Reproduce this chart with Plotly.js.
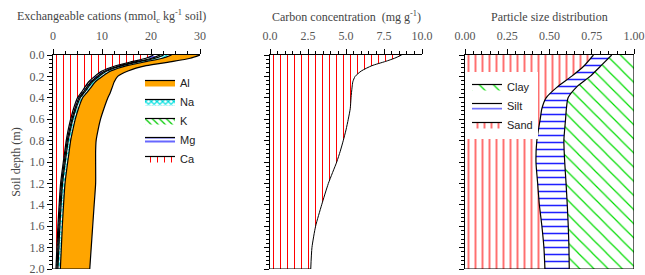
<!DOCTYPE html>
<html>
<head>
<meta charset="utf-8">
<script src="https://cdn.plot.ly/plotly-3.0.1.min.js"></script>
<style>html,body{margin:0;padding:0;background:#fff;}#chart{width:645px;height:275px;}</style>
</head>
<body>
<div id="chart"></div>
<script>
// ---- Panel 1: exchangeable cations (stacked widths, mmolc/kg) ----
const depthCat = [0, 0.03, 0.06, 0.1, 0.15, 0.2, 0.25, 0.3, 0.35, 0.4, 0.5, 0.6, 0.7, 0.8, 0.9, 1.0, 1.2, 1.4, 1.6, 1.8, 2.0];
const caVals = [20.5, 19.0, 16.3, 12.8, 10.0, 8.5, 7.3, 6.5, 5.8, 5.0, 4.2, 3.6, 3.1, 2.7, 2.4, 2.1, 1.55, 1.25, 1.0, 0.8, 0.6];
const mgVals = [1.3, 1.2, 1.0, 0.8, 0.6, 0.5, 0.45, 0.4, 0.35, 0.3, 0.3, 0.25, 0.25, 0.2, 0.2, 0.2, 0.2, 0.2, 0.2, 0.2, 0.2];
const kVals  = [0.8, 0.7, 0.6, 0.5, 0.4, 0.35, 0.3, 0.3, 0.25, 0.25, 0.2, 0.2, 0.2, 0.2, 0.2, 0.2, 0.2, 0.2, 0.2, 0.2, 0.2];
const naVals = [1.6, 1.5, 1.3, 1.0, 0.8, 0.7, 0.6, 0.6, 0.55, 0.5, 0.5, 0.5, 0.5, 0.5, 0.5, 0.5, 0.5, 0.5, 0.5, 0.5, 0.5];
const alVals = [5.8, 5.6, 5.3, 3.9, 3.5, 3.15, 3.85, 4.3, 4.75, 5.15, 5.2, 5.15, 5.15, 5.2, 5.4, 5.7, 6.25, 6.25, 6.2, 6.1, 6.0];

// ---- Panel 2: carbon concentration (mg/g) ----
const depthC = [0, 0.03, 0.06, 0.1, 0.15, 0.2, 0.25, 0.3, 0.4, 0.5, 0.6, 0.7, 0.8, 0.9, 1.0, 1.2, 1.4, 1.6, 1.8, 2.0];
const carbonVals = [8.66, 8.2, 7.6, 6.7, 6.0, 5.6, 5.45, 5.4, 5.33, 5.28, 5.15, 5.0, 4.82, 4.62, 4.39, 3.84, 3.4, 3.0, 2.76, 2.68];

// ---- Panel 3: particle size fractions ----
const depthP = [0, 0.1, 0.2, 0.3, 0.4, 0.5, 0.6, 0.8, 1.0, 1.2, 1.4, 1.6, 1.8, 2.0];
const sandVals = [0.76, 0.705, 0.63, 0.545, 0.48, 0.455, 0.445, 0.425, 0.42, 0.43, 0.44, 0.455, 0.467, 0.473];
const siltVals = [0.108, 0.10, 0.11, 0.115, 0.13, 0.145, 0.15, 0.16, 0.17, 0.168, 0.165, 0.156, 0.148, 0.144];
const clayVals = sandVals.map((s, i) => +(1 - s - siltVals[i]).toFixed(3));

// ---- labels / ticks ----
const catNames = ['Ca', 'Mg', 'K', 'Na', 'Al'];
const psNames = ['Sand', 'Silt', 'Clay'];
const depthTicks = [0, 0.2, 0.4, 0.6, 0.8, 1.0, 1.2, 1.4, 1.6, 1.8, 2.0];
const catTicks = [0, 10, 20, 30];
const carbonTicks = [0, 2.5, 5, 7.5, 10];
const psTicks = [0, 0.25, 0.5, 0.75, 1];
const titles = ['Exchangeable cations (mmol<sub>c</sub> kg<sup>-1</sup> soil)', 'Carbon concentration  (mg g<sup>-1</sup>)', 'Particle size distribution'];
const yTitle = 'Soil depth (m)';

const serif = 'Liberation Serif, Times New Roman, serif';
const sans = 'Liberation Sans, Arial, sans-serif';
const lineStyle = {color: 'black', width: 1.2, shape: 'spline', smoothing: 0.6};

const catStyles = {
  Ca: {shape: '|', fgcolor: '#ff0000', bgcolor: 'white', size: 7, solidity: 0.15},
  Mg: {shape: '-', fgcolor: '#0000ff', bgcolor: 'white', size: 4, solidity: 0.3},
  K:  {shape: '\\', fgcolor: '#00cc00', bgcolor: 'white', size: 5, solidity: 0.25},
  Na: {shape: 'x', fgcolor: '#00e0e0', bgcolor: 'white', size: 4, solidity: 0.5},
  Al: null
};
const catData = {Ca: caVals, Mg: mgVals, K: kVals, Na: naVals, Al: alVals};

const traces = [];
catNames.forEach(n => {
  const t = {
    type: 'scatter', mode: 'lines', name: n,
    x: catData[n], y: depthCat, xaxis: 'x', yaxis: 'y',
    stackgroup: 'cat', orientation: 'h',
    line: lineStyle, legend: 'legend'
  };
  if (catStyles[n]) { t.fillpattern = catStyles[n]; t.fillcolor = 'white'; }
  else { t.fillcolor = '#ffa500'; }
  traces.push(t);
});
const nC = depthCat.length - 1;
const totalBottom = caVals[nC] + mgVals[nC] + kVals[nC] + naVals[nC] + alVals[nC];
traces.push({type: 'scatter', mode: 'lines', x: [0, totalBottom], y: [depthCat[nC], depthCat[nC]],
  xaxis: 'x', yaxis: 'y', line: {color: 'black', width: 1.2}, showlegend: false, hoverinfo: 'skip'});

// carbon
traces.push({type: 'scatter', mode: 'lines', x: carbonVals, y: depthC, xaxis: 'x2', yaxis: 'y2',
  fill: 'tozerox', fillcolor: 'white',
  fillpattern: {shape: '|', fgcolor: '#ff0000', bgcolor: 'white', size: 7, solidity: 0.15},
  line: {color: 'black', width: 1, shape: 'spline', smoothing: 0.6}, showlegend: false});
const nCa = depthC.length - 1;
traces.push({type: 'scatter', mode: 'lines', x: [0, carbonVals[nCa]], y: [depthC[nCa], depthC[nCa]],
  xaxis: 'x2', yaxis: 'y2', line: {color: 'black', width: 1.2}, showlegend: false, hoverinfo: 'skip'});

// particle size
const psStyles = {
  Sand: {shape: '|', fgcolor: '#ff7070', bgcolor: 'white', size: 7, solidity: 0.28},
  Silt: {shape: '-', fgcolor: '#2020ff', bgcolor: 'white', size: 7, solidity: 0.22},
  Clay: {shape: '\\', fgcolor: '#00dd00', bgcolor: 'white', size: 10, solidity: 0.12}
};
const psData = {Sand: sandVals, Silt: siltVals, Clay: clayVals};
psNames.forEach(n => {
  traces.push({type: 'scatter', mode: 'lines', name: n, x: psData[n], y: depthP,
    xaxis: 'x3', yaxis: 'y3', stackgroup: 'ps', orientation: 'h',
    fillcolor: 'white', fillpattern: psStyles[n], line: lineStyle, legend: 'legend2'});
});
const nP = depthP.length - 1;
traces.push({type: 'scatter', mode: 'lines', x: [0, sandVals[nP] + siltVals[nP] + clayVals[nP]],
  y: [depthP[nP], depthP[nP]], xaxis: 'x3', yaxis: 'y3',
  line: {color: 'black', width: 1.2}, showlegend: false, hoverinfo: 'skip'});

const tickFont = {family: serif, size: 12, color: '#555'};
function xAx(dom, range, tv, minor, fmt, anchor) {
  return {domain: dom, range: range, side: 'top', anchor: anchor, showline: true, linecolor: 'black',
    linewidth: 1, ticks: 'outside', ticklen: 5, tickcolor: 'black', tickwidth: 1,
    tickmode: 'array', tickvals: tv, tickformat: fmt, ticklabelstandoff: 4, ticklabeloverflow: 'allow',
    showgrid: false, zeroline: false, tickfont: tickFont, automargin: false,
    minor: {tickmode: 'linear', ticks: 'outside', ticklen: 3, dtick: minor, tick0: 0, tickcolor: 'black', showgrid: false}};
}
function yAx(anchor, labels) {
  return {domain: [6/275, 220/275], range: [2, 0], anchor: anchor, showline: true, linecolor: 'black',
    linewidth: 1, ticks: 'outside', ticklen: 5, tickcolor: 'black',
    tickmode: 'array', tickvals: depthTicks, tickformat: '.1f', ticklabeloverflow: 'allow',
    showticklabels: labels, showgrid: false, zeroline: false, tickfont: tickFont, automargin: false,
    minor: {tickmode: 'linear', ticks: 'outside', ticklen: 3, dtick: 0.04, tick0: 0, tickcolor: 'black', showgrid: false}};
}

const titleY = (275 - 17) / 275;
const layout = {
  width: 645, height: 275, margin: {l: 0, r: 0, t: 0, b: 0},
  paper_bgcolor: 'white', plot_bgcolor: 'rgba(0,0,0,0)',
  font: {family: serif, size: 12, color: '#444'},
  xaxis: xAx([53/645, 200/645], [0, 30], catTicks, 2.5, 'd', 'y'),
  xaxis2: xAx([270/645, 422/645], [0, 10], carbonTicks, 0.5, '.1f', 'y2'),
  xaxis3: xAx([465/645, 634/645], [0, 1], psTicks, 0.05, '.2f', 'y3'),
  yaxis: Object.assign(yAx('x', true), {title: {text: yTitle, font: {family: serif, size: 12, color: '#444'}, standoff: 6}}),
  yaxis2: yAx('x2', false),
  yaxis3: yAx('x3', false),
  legend: {x: 140/645, y: (275-68)/275, xanchor: 'left', yanchor: 'top', traceorder: 'reversed',
    bgcolor: 'rgba(255,255,255,0)', font: {family: sans, size: 11, color: '#222'}},
  legend2: {x: 467/645, y: (275-72)/275, xanchor: 'left', yanchor: 'top', traceorder: 'reversed',
    bgcolor: 'white', font: {family: sans, size: 11, color: '#222'}},
  annotations: [
    {text: titles[0], x: 111/645, y: titleY, xanchor: 'center', yanchor: 'middle',
     xref: 'paper', yref: 'paper', showarrow: false, font: {family: serif, size: 12, color: '#444'}},
    {text: titles[1], x: 346/645, y: titleY, xanchor: 'center', yanchor: 'middle',
     xref: 'paper', yref: 'paper', showarrow: false, font: {family: serif, size: 12, color: '#444'}},
    {text: titles[2], x: 549/645, y: titleY, xanchor: 'center', yanchor: 'middle',
     xref: 'paper', yref: 'paper', showarrow: false, font: {family: serif, size: 12, color: '#444'}}
  ],
  showlegend: true
};

Plotly.newPlot('chart', traces, layout, {staticPlot: true, displayModeBar: false});
</script>
</body>
</html>
